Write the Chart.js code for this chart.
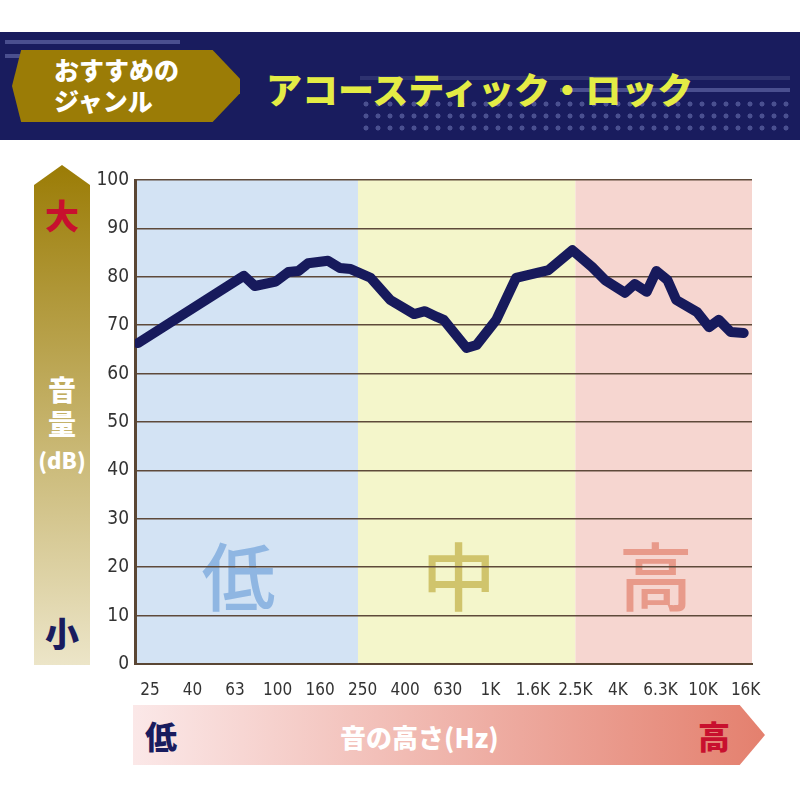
<!DOCTYPE html>
<html><head><meta charset="utf-8">
<script src="https://cdn.jsdelivr.net/npm/chart.js@4"></script>
<style>
body{margin:0;width:800px;height:800px;background:#fff;position:relative;overflow:hidden;font-family:"Noto Sans CJK JP",sans-serif}
.hdr{position:absolute;left:0;top:32px;width:800px;height:108px;background:#191c5e}
.ln{position:absolute;height:4px;background:#4a4f8f}
.tag{position:absolute;left:12px;top:50px;width:228px;height:72px;background:#9b7c06;clip-path:polygon(4% 0,88% 0,100% 40%,100% 60%,88% 100%,4% 100%,0 50%)}
.tag div{position:absolute;left:42px;top:4px;color:#fff;font-weight:900;font-size:25px;line-height:31px}
.ttl{position:absolute;left:266px;top:62px;color:#e4ec45;font-weight:900;font-size:36px;letter-spacing:0px}
.dots{position:absolute;left:360px;top:66px;width:430px;height:38px;background-image:radial-gradient(circle,#4a5090 2.2px,transparent 2.8px);background-size:12px 12px}
.varr{position:absolute;left:34px;top:165px;width:56px;height:500px;background:linear-gradient(#9b7c06,#ece5c8);clip-path:polygon(50% 0,100% 4%,100% 100%,0 100%,0 4%)}
.vt{position:absolute;left:34px;width:56px;text-align:center;font-weight:900}
.harr{position:absolute;left:133px;top:705px;width:632px;height:60px;background:linear-gradient(90deg,#fbe8e8,#e4806e);clip-path:polygon(0 0,96% 0,100% 50%,96% 100%,0 100%)}
.ht{position:absolute;top:712px;font-weight:900}
#wrap{position:absolute;left:0;top:150px;width:800px;height:560px}
</style></head><body>
<div class="hdr">
  <div class="ln" style="left:5px;top:8px;width:175px"></div>
  <div class="ln" style="left:5px;top:22px;width:20px"></div>
  <div class="ln" style="left:360px;top:44px;width:430px;background:#2e3270"></div>
  <div class="ln" style="left:560px;top:56px;width:230px"></div>
  <div class="dots"></div>
</div>
<div class="tag"><div>おすすめの<br>ジャンル</div></div>
<div class="ttl">アコースティック・ロック</div>
<div class="varr"></div>
<div class="vt" style="top:190px;color:#c8102e;font-size:34px">大</div>
<div class="vt" style="top:372px;color:#fff;font-size:28px;line-height:34px">音<br>量<br><span style="font-size:22px">(dB)</span></div>
<div class="vt" style="top:608px;color:#191c5e;font-size:34px">小</div>
<div class="harr"></div>
<div class="ht" style="left:145px;color:#191c5e;font-size:32px">低</div>
<div class="ht" style="left:340px;top:718px;color:#fff;font-size:26px">音の高さ(Hz)</div>
<div class="ht" style="left:698px;color:#c8102e;font-size:32px">高</div>
<div id="wrap"><canvas id="c"></canvas></div>
<script>
// x positions are in 1/3-octave steps, 0 = 25Hz
const tickLabels = ['25','','40','','63','','100','','160','','250','','400','','630','','1K','','1.6K','','2.5K','','4K','','6.3K','','10K','','16K'];
const lineX = [-0.56,4.42,4.93,5.91,6.51,6.98,7.44,8.37,8.93,9.44,10.37,11.30,12.42,12.93,13.49,13.81,14.88,15.35,16.28,17.21,18.74,19.86,20.79,21.40,22.33,22.79,23.35,23.81,24.33,24.74,25.72,26.28,26.74,27.30,27.91];
const lineY = [66.3,80.2,78.1,79,81,81.2,82.8,83.3,81.8,81.6,79.8,75.2,72.3,72.9,71.7,71.1,65.3,65.9,71.1,79.8,81.4,85.5,82,79.3,76.7,78.5,76.9,81.2,79.3,75.2,72.7,69.6,71.1,68.6,68.4];
const bandEdges = [-0.7, 9.78, 20.0, 28.3];
const bandColors = ['#d3e3f4', '#f4f6cb', '#f6d6d0'];
const bandWords = ['低', '中', '高'];
const bandWordColors = ['#8fb6e2', '#d0c46c', '#e89a8a'];

const bands = {
  id: 'bands',
  beforeDraw(chart) {
    const { ctx, chartArea: a, scales: { x, y } } = chart;
    ctx.save();
    for (let i = 0; i < 3; i++) {
      const l = x.getPixelForValue(bandEdges[i]), r = x.getPixelForValue(bandEdges[i + 1]);
      ctx.fillStyle = bandColors[i];
      ctx.fillRect(l, a.top, r - l, a.bottom - a.top);
      ctx.fillStyle = bandWordColors[i];
      ctx.font = '500 74px "Noto Sans CJK JP"';
      ctx.textAlign = 'center';
      ctx.textBaseline = 'middle';
      ctx.fillText(bandWords[i], (l + r) / 2 - 8, y.getPixelForValue(18));
    }
    ctx.restore();
  }
};

new Chart(document.getElementById('c'), {
  type: 'line',
  data: { datasets: [{
    data: lineX.map((v, i) => ({ x: v, y: lineY[i] })),
    borderColor: '#171a5c', borderWidth: 10, pointRadius: 0,
    borderJoinStyle: 'round', borderCapStyle: 'round', tension: 0
  }] },
  options: {
    animation: false, responsive: true, maintainAspectRatio: false,
    layout: { padding: { left: 95, right: 48, top: 30, bottom: 0 } },
    plugins: { legend: { display: false }, tooltip: { enabled: false } },
    scales: {
      x: {
        type: 'linear', min: -0.7, max: 28.3,
        afterBuildTicks: (ax) => { ax.ticks = tickLabels.map((t, i) => ({ value: i })); },
        ticks: { autoSkip: false, maxRotation: 0, color: '#333', padding: 8,
          font: { family: 'DejaVu Sans Condensed', size: 17 },
          callback: (v) => tickLabels[v] },
        grid: { display: false },
        border: { color: '#5a4634', width: 2 },
        afterFit: (ax) => { ax.height = 46; }
      },
      y: {
        min: 0, max: 100,
        ticks: { stepSize: 10, color: '#333', padding: 6,
          font: { family: 'DejaVu Sans Condensed', size: 19 } },
        grid: { color: '#5e4a3a', lineWidth: 1.5, drawTicks: false },
        border: { color: '#5a4634', width: 3 },
        afterFit: (ax) => { ax.width = 40; }
      }
    }
  },
  plugins: [bands]
});
</script>
</body></html>
